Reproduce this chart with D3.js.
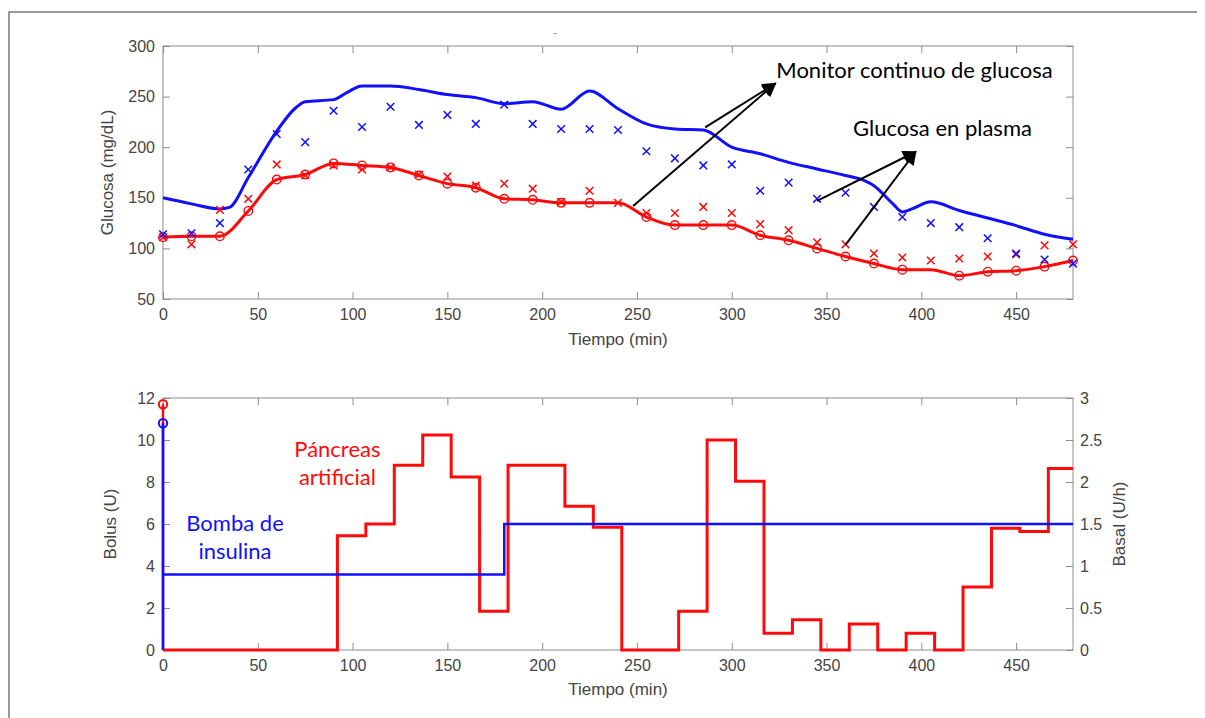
<!DOCTYPE html>
<html>
<head>
<meta charset="utf-8">
<script src="https://cdn.jsdelivr.net/npm/d3@7"></script>
<style>
body{margin:0;background:#fff;}
.axis text{font-family:"Liberation Sans",Arial,sans-serif;font-size:16px;fill:#444;}
.axis line{stroke:#8c8c8c;}
.axis path{display:none;}
.axis-label{font-family:"Liberation Sans",Arial,sans-serif;font-size:17px;fill:#444;}
.note{font-family:Lato,"Open Sans",sans-serif;font-size:22px;}
</style>
</head>
<body>
<div id="chart"></div>
<script>
// ---- data ----
const sampleTimes=[0,15,30,45,60,75,90,105,120,135,150,165,180,195,210,225,240,255,270,285,300,315,330,345,360,375,390,405,420,435,450,465,480];

// plasma glucose (x markers)
const plasmaPump=[114,115,125,178,213,205,236,220,240,222,232,223,242,223,218,218,217,196,189,182,183,157,165,149,155,141,131,125,121,110,95,89,85];
const plasmaPancreas=[111,104,138,149,183,172,182,178,180,173,171,162,164,159,146,157,145,135,135,141,135,124,118,106,104,95,91,88,90,92,94,103,104];

// CGM, artificial pancreas (red line + circles)
const cgmPancreas=[111,112,112,137,168,173,184,182,180,172,164,160,149,148,145,145,145,131,123,123,123,113,108,100,92,85,79,79,73,77,78,82,88];
const cgmPancreasMarks=[111,112,112,137,168,173,184,182,180,172,164,160,149,148,145,145,null,131,123,123,123,113,108,100,92,85,79,null,73,77,78,82,88];

// CGM, insulin pump (blue line)
const cgmPumpTimes=[0,15,30,35,45,60,70,75,90,97,105,120,135,150,165,180,195,210,225,240,255,270,285,300,315,330,345,360,370,375,385,390,395,405,420,435,450,465,480];
const cgmPump=[150,144,139,140.5,170,216,239,245,247,254,260.5,260.5,257,252,249,243,245,237.5,255.5,238,223,218,217,200,193.5,185,178.5,172,167,162,144,136,139,146,137.5,130,122.5,114,109];

// basal rates (U/h)
const basalTimes=[0,92,107,122,137,152,167,182,212,227,242,272,287,302,317,332,347,362,377,392,407,422,437,452,467,480];
const basalPancreas=[0,1.36,1.5,2.2,2.56,2.06,0.46,2.2,1.71,1.46,0,0.46,2.5,2.01,0.2,0.36,0,0.31,0,0.2,0,0.75,1.45,1.41,2.16,2.16];
const basalPumpTimes=[0,180,480];
const basalPump=[0.9,1.5,1.5];

// boluses (U)
const bolusTimes=[0];
const bolusPump=[10.8];
const bolusPancreas=[11.7];

// ticks
const timeTicks=[0,50,100,150,200,250,300,350,400,450];
const glucoseTicks=[50,100,150,200,250,300];
const bolusTicks=[0,2,4,6,8,10,12];
const basalTicks=[0,0.5,1,1.5,2,2.5,3];

const BLUE="#1010ff", RED="#ff0a0a";

const svg=d3.select("#chart").append("svg")
    .attr("width",1205)
    .attr("height",718);

svg.append("rect").attr("width",1205).attr("height",718).attr("fill","#fff");

// frame of the original figure
svg.append("path")
    .attr("d","M9,718V12H1197")
    .attr("fill","none")
    .attr("stroke","#7a7a7a")
    .attr("stroke-width",1.5);

svg.append("defs").append("marker")
    .attr("id","arrow")
    .attr("viewBox","0 0 10 10")
    .attr("refX",9).attr("refY",5)
    .attr("markerWidth",8).attr("markerHeight",7)
    .attr("markerUnits","strokeWidth")
    .attr("orient","auto")
  .append("path")
    .attr("d","M0,0L10,5L0,10Z")
    .attr("fill","#000");

function xMark(s){
    return "M"+(-s)+","+(-s)+"L"+s+","+s+"M"+(-s)+","+s+"L"+s+","+(-s);
}

//------------------ top: glucose ------------------
GlucoseChart=function(_svg){
    this.svg=_svg;
    this.initVis();
};

GlucoseChart.prototype.initVis=function(){
    let vis=this;

    vis.margin={left:163, top:46};
    vis.width=910;
    vis.height=253;

    vis.g=vis.svg.append("g")
        .attr("transform","translate("+vis.margin.left+","+vis.margin.top+")");

    vis.x=d3.scaleLinear().domain([0,480]).range([0,vis.width]);
    vis.y=d3.scaleLinear().domain([50,300]).range([vis.height,0]);

    // Axes, ticks pointing inwards like matlab
    vis.g.append("g").attr("class","axis")
        .attr("transform","translate(0,"+vis.height+")")
        .call(d3.axisBottom(vis.x).tickValues(timeTicks).tickSizeInner(-7).tickSizeOuter(0).tickPadding(10));
    vis.g.append("g").attr("class","axis")
        .call(d3.axisTop(vis.x).tickValues(timeTicks).tickSizeInner(-7).tickSizeOuter(0).tickFormat(""));
    vis.g.append("g").attr("class","axis")
        .call(d3.axisLeft(vis.y).tickValues(glucoseTicks).tickSizeInner(-7).tickSizeOuter(0).tickPadding(8));
    vis.g.append("g").attr("class","axis")
        .attr("transform","translate("+vis.width+",0)")
        .call(d3.axisRight(vis.y).tickValues(glucoseTicks).tickSizeInner(-7).tickSizeOuter(0).tickFormat(""));

    vis.g.append("rect")
        .attr("width",vis.width).attr("height",vis.height)
        .attr("fill","none").attr("stroke","#8c8c8c");

    vis.g.append("text").attr("class","axis-label")
        .attr("x",vis.width/2).attr("y",vis.height+46)
        .attr("text-anchor","middle")
        .text("Tiempo (min)");
    vis.g.append("text").attr("class","axis-label")
        .attr("transform","translate(-50,"+(vis.height/2)+") rotate(-90)")
        .attr("text-anchor","middle")
        .text("Glucosa (mg/dL)");

    // leftover of a clipped title
    vis.g.append("text")
        .attr("x",vis.x(206)).attr("y",-10)
        .attr("font-size","10px").attr("fill","#777")
        .attr("font-family","Liberation Sans, Arial")
        .text("-");

    vis.updateVis();
};

GlucoseChart.prototype.updateVis=function(){
    let vis=this;

    var line=d3.line()
        .x(function(d){ return vis.x(d[0]); })
        .y(function(d){ return vis.y(d[1]); })
        .curve(d3.curveMonotoneX);

    var pumpLine=d3.zip(cgmPumpTimes,cgmPump);
    var pancLine=d3.zip(sampleTimes,cgmPancreas);

    vis.g.append("path")
        .attr("d",line(pumpLine))
        .attr("fill","none").attr("stroke",BLUE)
        .attr("stroke-width",3).attr("stroke-linejoin","round");

    vis.g.append("path")
        .attr("d",line(pancLine))
        .attr("fill","none").attr("stroke",RED)
        .attr("stroke-width",3).attr("stroke-linejoin","round");

    var circles=d3.zip(sampleTimes,cgmPancreasMarks).filter(function(d){ return d[1]!==null; });
    vis.g.selectAll(".cgm-circle").data(circles).enter().append("circle")
        .attr("class","cgm-circle")
        .attr("cx",function(d){ return vis.x(d[0]); })
        .attr("cy",function(d){ return vis.y(d[1]); })
        .attr("r",4.3)
        .attr("fill","none").attr("stroke",RED).attr("stroke-width",1.4);

    vis.g.selectAll(".plasma-panc").data(d3.zip(sampleTimes,plasmaPancreas)).enter().append("path")
        .attr("class","plasma-panc")
        .attr("transform",function(d){ return "translate("+vis.x(d[0])+","+vis.y(d[1])+")"; })
        .attr("d",xMark(3.8))
        .attr("stroke",RED).attr("stroke-width",1.5);

    vis.g.selectAll(".plasma-pump").data(d3.zip(sampleTimes,plasmaPump)).enter().append("path")
        .attr("class","plasma-pump")
        .attr("transform",function(d){ return "translate("+vis.x(d[0])+","+vis.y(d[1])+")"; })
        .attr("d",xMark(3.8))
        .attr("stroke",BLUE).attr("stroke-width",1.5);

    // annotations
    vis.g.append("text").attr("class","note")
        .attr("x",vis.x(323.5)).attr("y",vis.y(268.5))
        .text("Monitor continuo de glucosa");
    vis.g.append("text").attr("class","note")
        .attr("x",vis.x(364)).attr("y",vis.y(211))
        .text("Glucosa en plasma");

    var arrows=[
        [[286,219.5],[323,263]],
        [[248,142],[323,263]],
        [[345,147],[397,195.5]],
        [[360,103.5],[397,195.5]]
    ];
    vis.g.selectAll(".arrow").data(arrows).enter().append("line")
        .attr("class","arrow")
        .attr("x1",function(d){ return vis.x(d[0][0]); })
        .attr("y1",function(d){ return vis.y(d[0][1]); })
        .attr("x2",function(d){ return vis.x(d[1][0]); })
        .attr("y2",function(d){ return vis.y(d[1][1]); })
        .attr("stroke","#000").attr("stroke-width",2)
        .attr("marker-end","url(#arrow)");
};

//------------------ bottom: insulin ------------------
InsulinChart=function(_svg){
    this.svg=_svg;
    this.initVis();
};

InsulinChart.prototype.initVis=function(){
    let vis=this;

    vis.margin={left:163, top:398};
    vis.width=910;
    vis.height=252;

    vis.g=vis.svg.append("g")
        .attr("transform","translate("+vis.margin.left+","+vis.margin.top+")");

    vis.x=d3.scaleLinear().domain([0,480]).range([0,vis.width]);
    vis.yBolus=d3.scaleLinear().domain([0,12]).range([vis.height,0]);
    vis.yBasal=d3.scaleLinear().domain([0,3]).range([vis.height,0]);

    vis.g.append("g").attr("class","axis")
        .attr("transform","translate(0,"+vis.height+")")
        .call(d3.axisBottom(vis.x).tickValues(timeTicks).tickSizeInner(-7).tickSizeOuter(0).tickPadding(10));
    vis.g.append("g").attr("class","axis")
        .call(d3.axisTop(vis.x).tickValues(timeTicks).tickSizeInner(-7).tickSizeOuter(0).tickFormat(""));
    vis.g.append("g").attr("class","axis")
        .call(d3.axisLeft(vis.yBolus).tickValues(bolusTicks).tickSizeInner(-7).tickSizeOuter(0).tickPadding(8));
    vis.g.append("g").attr("class","axis")
        .attr("transform","translate("+vis.width+",0)")
        .call(d3.axisRight(vis.yBasal).tickValues(basalTicks).tickSizeInner(-7).tickSizeOuter(0).tickPadding(7)
            .tickFormat(function(d){ return String(d); }));

    vis.g.append("rect")
        .attr("width",vis.width).attr("height",vis.height)
        .attr("fill","none").attr("stroke","#8c8c8c");

    vis.g.append("text").attr("class","axis-label")
        .attr("x",vis.width/2).attr("y",vis.height+45)
        .attr("text-anchor","middle")
        .text("Tiempo (min)");
    vis.g.append("text").attr("class","axis-label")
        .attr("transform","translate(-47,"+(vis.height/2)+") rotate(-90)")
        .attr("text-anchor","middle")
        .text("Bolus (U)");
    vis.g.append("text").attr("class","axis-label")
        .attr("transform","translate("+(vis.width+52)+","+(vis.height/2)+") rotate(-90)")
        .attr("text-anchor","middle")
        .text("Basal (U/h)");

    vis.updateVis();
};

InsulinChart.prototype.updateVis=function(){
    let vis=this;

    var step=d3.line()
        .x(function(d){ return vis.x(d[0]); })
        .y(function(d){ return vis.yBasal(d[1]); })
        .curve(d3.curveStepAfter);

    vis.g.append("path")
        .attr("d",step(d3.zip(basalTimes,basalPancreas)))
        .attr("fill","none").attr("stroke",RED).attr("stroke-width",3);

    function stems(vals,color){
        var data=d3.zip(bolusTimes,vals);
        vis.g.selectAll(null).data(data).enter().append("line")
            .attr("x1",function(d){ return vis.x(d[0]); })
            .attr("x2",function(d){ return vis.x(d[0]); })
            .attr("y1",vis.yBolus(0))
            .attr("y2",function(d){ return vis.yBolus(d[1]); })
            .attr("stroke",color).attr("stroke-width",2.5);
        vis.g.selectAll(null).data(data).enter().append("circle")
            .attr("cx",function(d){ return vis.x(d[0]); })
            .attr("cy",function(d){ return vis.yBolus(d[1]); })
            .attr("r",4.2)
            .attr("fill","none").attr("stroke",color).attr("stroke-width",2);
    }
    stems(bolusPancreas,RED);

    vis.g.append("path")
        .attr("d",step(d3.zip(basalPumpTimes,basalPump)))
        .attr("fill","none").attr("stroke",BLUE).attr("stroke-width",2.5);

    stems(bolusPump,BLUE);

    // labels
    var notes=[
        {t:92, v:9.19, text:"Páncreas", c:RED},
        {t:92, v:7.86, text:"artificial", c:RED},
        {t:38, v:5.68, text:"Bomba de", c:BLUE},
        {t:38, v:4.33, text:"insulina", c:BLUE}
    ];
    vis.g.selectAll(".lbl").data(notes).enter().append("text")
        .attr("class","note lbl")
        .attr("x",function(d){ return vis.x(d.t); })
        .attr("y",function(d){ return vis.yBolus(d.v); })
        .attr("text-anchor","middle")
        .attr("fill",function(d){ return d.c; })
        .text(function(d){ return d.text; });
};

new GlucoseChart(svg);
new InsulinChart(svg);
</script>
</body>
</html>
